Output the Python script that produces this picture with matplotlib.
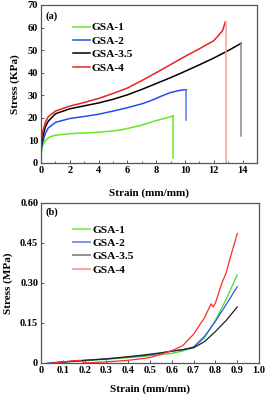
import matplotlib
matplotlib.use('Agg')
import matplotlib.pyplot as plt
import numpy as np
from matplotlib.ticker import MultipleLocator

plt.rcParams['font.family'] = ['Liberation Serif', 'DejaVu Serif']
plt.rcParams['font.weight'] = 'bold'

labels = ['GSA-1', 'GSA-2', 'GSA-3.5', 'GSA-4']

# panel (a): tensile stress-strain
a_x = [
    [0.0, 0.1, 0.3, 0.6, 1.0, 2.0, 3.0, 4.0, 5.0, 5.5, 6.0, 6.5, 7.0, 7.5, 8.0, 8.5, 9.0, 9.2],
    [0.0, 0.1, 0.3, 0.5, 1.0, 2.0, 3.0, 4.0, 5.0, 6.0, 7.0, 7.5, 8.0, 8.5, 9.0, 9.5, 10.0, 10.1],
    [0.0, 0.1, 0.3, 0.5, 1.0, 2.0, 3.0, 4.0, 5.0, 6.0, 7.0, 8.0, 9.0, 10.0, 11.0, 12.0, 13.0, 13.9],
    [0.0, 0.1, 0.3, 0.5, 1.0, 2.0, 3.0, 4.0, 5.0, 6.0, 7.0, 8.0, 9.0, 10.0, 11.0, 12.0, 12.6, 12.8],
]
a_y = [
    [4.0, 7.5, 10.0, 11.5, 12.3, 13.0, 13.3, 13.6, 14.2, 14.6, 15.3, 16.0, 16.8, 17.8, 18.8, 19.6, 20.5, 21.0],
    [5.0, 9.0, 13.0, 15.5, 18.0, 19.7, 20.6, 21.6, 23.0, 24.5, 26.2, 27.3, 28.6, 30.0, 31.2, 32.0, 32.5, 32.3],
    [7.0, 11.0, 16.0, 18.5, 21.8, 24.0, 25.3, 26.6, 28.2, 30.2, 32.6, 35.2, 37.8, 40.6, 43.5, 46.5, 49.8, 53.0],
    [10.0, 13.5, 18.0, 20.5, 23.0, 25.2, 26.8, 28.6, 30.8, 33.2, 36.5, 40.0, 43.6, 47.2, 50.6, 54.2, 58.5, 62.5],
]
# vertical fracture drop: (strain, stress at bottom)
a_drop_x = [9.2, 10.1, 13.9, 12.85]
a_drop_y = [2.0, 19.0, 12.0, 0.0]

# panel (b): compressive stress-strain
b_x = [
    [0.05, 0.2, 0.4, 0.5, 0.6, 0.65, 0.7, 0.75, 0.8, 0.85, 0.9],
    [0.03, 0.2, 0.4, 0.5, 0.6, 0.65, 0.7, 0.75, 0.8, 0.85, 0.9],
    [0.05, 0.2, 0.3, 0.45, 0.55, 0.65, 0.7, 0.75, 0.8, 0.85, 0.9],
    [0.05, 0.15, 0.18, 0.2, 0.3, 0.4, 0.5, 0.6, 0.65, 0.7, 0.75, 0.78, 0.79, 0.8, 0.83, 0.85, 0.87, 0.9],
]
b_y = [
    [0.0, 0.008, 0.02, 0.027, 0.036, 0.045, 0.058, 0.094, 0.16, 0.24, 0.33],
    [0.0, 0.01, 0.022, 0.03, 0.045, 0.05, 0.06, 0.10, 0.156, 0.22, 0.286],
    [0.0, 0.01, 0.015, 0.028, 0.038, 0.05, 0.057, 0.08, 0.118, 0.16, 0.21],
    [0.0, 0.008, 0.01, 0.0, 0.004, 0.01, 0.02, 0.046, 0.065, 0.108, 0.17, 0.222, 0.21, 0.225, 0.30, 0.34, 0.40, 0.485],
]

a_colors = ['#66e822', '#2250ee', '#000000', '#ee2020']
a_drop_colors = ['#66e822', '#5577ee', '#888888', '#f5a0a0']
b_colors = ['#44dd22', '#3355ee', '#222222', '#ff2a2a']
b_leg_colors = ['#88ee55', '#7788ee', '#888888', '#ff9999']

fig = plt.figure(figsize=(2.67, 3.98), dpi=100)
ax1 = fig.add_axes([0.1536, 0.5905, 0.809, 0.397])
ax2 = fig.add_axes([0.1536, 0.088, 0.8165, 0.402])

fs = 7.5
lfs = 8.2
for ax in (ax1, ax2):
    for s in ax.spines.values():
        s.set_color('#555555')
        s.set_linewidth(0.9)
    ax.tick_params(direction='in', length=2.5, width=0.7, labelsize=fs, color='#555555', pad=2)
    ax.tick_params(which='minor', direction='in', length=1.5, width=0.6, color='#555555')

for k in range(4):
    ax1.plot(a_x[k], a_y[k], color=a_colors[k], lw=1.1, label=labels[k])
    ax1.plot([a_drop_x[k], a_drop_x[k]], [a_y[k][-1], a_drop_y[k]], color=a_drop_colors[k], lw=1.1)
ax1.set_xlim(0, 15)
ax1.set_ylim(0, 70)
ax1.xaxis.set_major_locator(MultipleLocator(2))
ax1.xaxis.set_minor_locator(MultipleLocator(1))
ax1.yaxis.set_major_locator(MultipleLocator(10))
ax1.set_xlabel('Strain (mm/mm)', fontsize=fs + 0.5, fontweight='bold', labelpad=10)
ax1.set_ylabel('Stress (KPa)', fontsize=fs + 0.5, fontweight='bold', labelpad=6)
ax1.text(0.02, 0.96, '(a)', transform=ax1.transAxes, fontsize=fs, fontweight='bold', va='top')
ax1.legend(loc='upper left', bbox_to_anchor=(0.12, 0.925), frameon=False, fontsize=lfs,
           handlelength=1.5, handletextpad=0.2, labelspacing=0.3, borderpad=0.0)

for k in range(4):
    ax2.plot(b_x[k], b_y[k], color=b_colors[k], lw=0.9, label=labels[k])
ax2.set_xlim(0, 1.0)
ax2.set_ylim(0, 0.60)
ax2.set_xticks(np.arange(0, 1.01, 0.1))
ax2.set_xticklabels(['0', '0.1', '0.2', '0.3', '0.4', '0.5', '0.6', '0.7', '0.8', '0.9', '1.0'])
ax2.set_yticks([0, 0.15, 0.30, 0.45, 0.60])
ax2.set_yticklabels(['0', '0.15', '0.30', '0.45', '0.60'])
ax2.set_xlabel('Strain (mm/mm)', fontsize=fs + 0.5, fontweight='bold', labelpad=7)
ax2.set_ylabel('Stress (MPa)', fontsize=fs + 0.5, fontweight='bold', labelpad=5)
ax2.text(0.02, 0.97, '(b)', transform=ax2.transAxes, fontsize=fs, fontweight='bold', va='top')
leg = ax2.legend(loc='upper left', bbox_to_anchor=(0.12, 0.9), frameon=False, fontsize=lfs,
                 handlelength=1.5, handletextpad=0.2, labelspacing=0.3, borderpad=0.0)
for h, c in zip(leg.get_lines(), b_leg_colors):
    h.set_color(c)
    h.set_linewidth(1.3)

fig.savefig('out.png', dpi=100)
